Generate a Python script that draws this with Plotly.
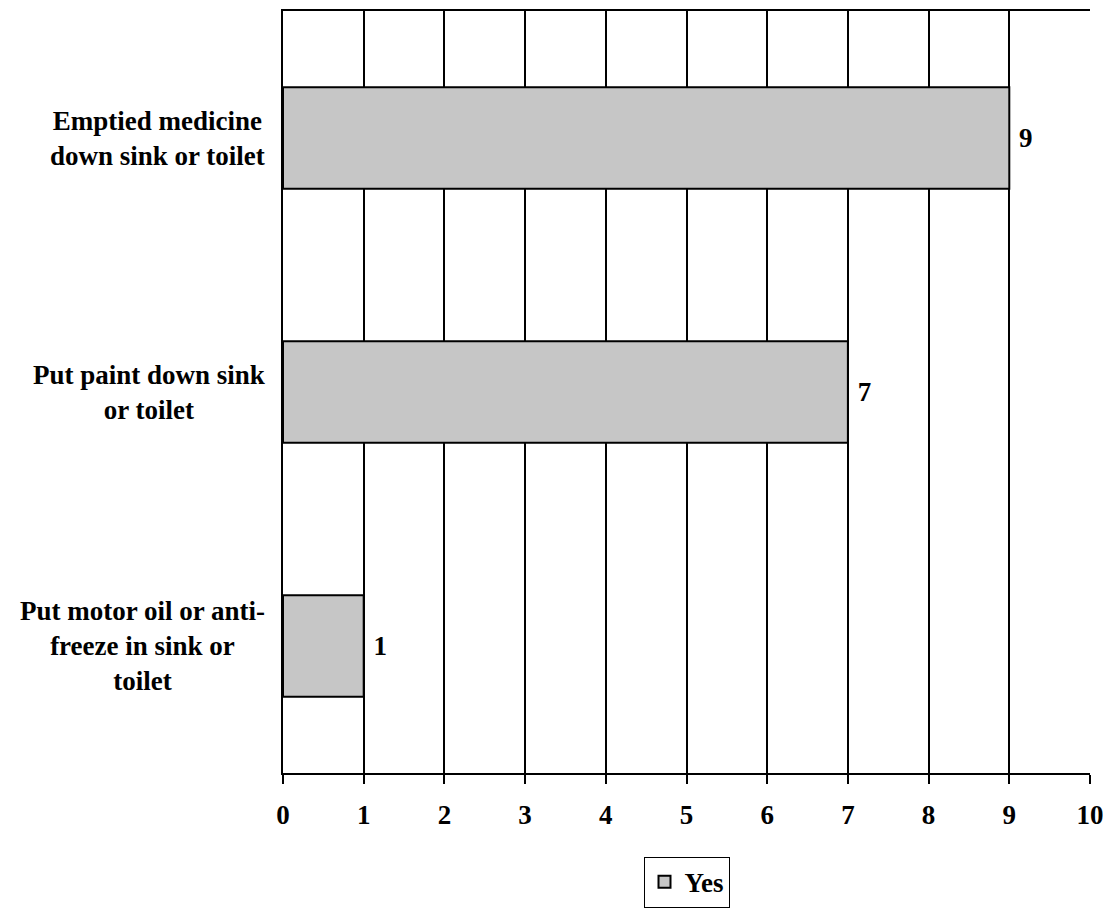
import plotly.graph_objects as go

categories = [
    "Put motor oil or anti-<br>freeze in sink or<br>toilet",
    "Put paint down sink<br>or toilet",
    "Emptied medicine<br>down sink or toilet",
]
values = [1, 7, 9]
series_name = "Yes"
x_ticks = list(range(0, 11))

FONT = "Liberation Serif"
FS = 27
positions = list(range(len(categories)))

fig = go.Figure()
fig.add_trace(go.Bar(
    y=positions, x=values, orientation="h", name=series_name,
    marker=dict(color="#c6c6c6", line=dict(color="black", width=2)),
    width=0.4,
    text=["\u00a0<b>%d</b>" % v for v in values], textposition="outside",
    textfont=dict(family=FONT, size=FS, color="black"),
    cliponaxis=False,
    showlegend=True,
))

for p, c in zip(positions, categories):
    fig.add_annotation(
        x=0, y=p, xref="x", yref="y", text="<b>" + c + "</b>",
        showarrow=False, xanchor="right", yanchor="middle", align="center",
        xshift=-16, font=dict(family=FONT, size=FS, color="black"),
    )

# page body has an 8px margin, so the figure is 8px smaller than the window
fig.update_layout(
    width=1103, height=901,
    margin=dict(l=275, r=21, t=1, b=132),
    paper_bgcolor="white", plot_bgcolor="white",
    font=dict(family=FONT, size=FS, color="black"),
    showlegend=True,
    legend=dict(
        x=0.5, xanchor="center", y=-0.11, yanchor="top",
        orientation="h", bordercolor="black", borderwidth=1,
        font=dict(family=FONT, size=FS, color="black", weight="bold"),
        itemwidth=30, tracegroupgap=0,
    ),
    xaxis=dict(
        range=[0, 10], tickvals=x_ticks, ticktext=["<b>%d</b>" % t for t in x_ticks],
        ticks="outside", ticklen=9, tickwidth=2, tickcolor="black",
        ticklabelstandoff=8,
        showgrid=True, gridcolor="black", gridwidth=2,
        showline=True, linecolor="black", linewidth=2, mirror=True,
        zeroline=False, tickfont=dict(family=FONT, size=FS, color="black"),
        fixedrange=True,
    ),
    yaxis=dict(
        range=[-0.5, len(categories) - 0.5], showticklabels=False,
        ticks="", showgrid=False, zeroline=False,
        showline=True, linecolor="black", linewidth=2,
        minor=dict(tick0=-0.5, dtick=1, ticks="outside", ticklen=9,
                   tickwidth=2, tickcolor="black", showgrid=False),
    ),
    bargap=0.6,
)

fig.write_html("out.html")
